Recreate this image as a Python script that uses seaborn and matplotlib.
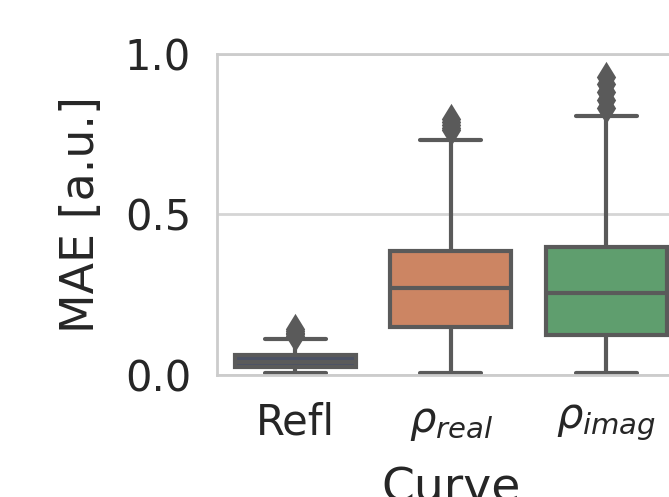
import numpy as np
import pandas as pd
import matplotlib
matplotlib.use("Agg")
import matplotlib.pyplot as plt
import seaborn as sns

# Box-plot summary per curve: whisker ends, quartiles, median and outliers
curves = ["Refl", r"$\rho_{real}$", r"$\rho_{imag}$"]
whisker_low = [0.007, 0.007, 0.007]
q1 = [0.024, 0.150, 0.123]
median = [0.040, 0.271, 0.255]
q3 = [0.0615, 0.385, 0.397]
whisker_high = [0.112, 0.730, 0.806]
outliers = [
    [0.120, 0.126, 0.132, 0.138, 0.143],
    [0.762, 0.770, 0.778, 0.786, 0.796],
    [0.832, 0.855, 0.880, 0.905, 0.928],
]
box_colors = ["#4b5265", "#cc8563", "#5f9e6e"]
line_gray = "#5a5a5a"

# Expand each summary into a sample whose quartiles/whiskers reproduce it
rows = []
for name, lo, a, m, b, hi, fl in zip(curves, whisker_low, q1, median, q3,
                                     whisker_high, outliers):
    sample = [lo] + [a] * 10 + [m] * 10 + [b] * 10 + [hi] + list(fl)
    rows += [(name, v) for v in sample]
df = pd.DataFrame(rows, columns=["Curve", "MAE"])

sns.set_theme(style="whitegrid")
plt.rcParams["font.family"] = ["DejaVu Sans"]
plt.rcParams["mathtext.fontset"] = "dejavusans"

fig = plt.figure(figsize=(669 / 200, 497 / 200), dpi=200)
ax = fig.add_axes([0.3251, 0.2455, 0.6973, 0.6467])

sns.boxplot(
    data=df, x="Curve", y="MAE", hue="Curve", order=curves, hue_order=curves,
    palette=box_colors, saturation=1, width=0.78, linewidth=1.5,
    linecolor=line_gray, legend=False, ax=ax,
    flierprops=dict(marker="d", markerfacecolor=line_gray,
                    markeredgecolor=line_gray, markersize=6.5),
)

ax.set_ylim(0, 1.0)
ax.set_yticks([0.0, 0.5, 1.0])
ax.set_yticklabels(["0.0", "0.5", "1.0"])
ax.tick_params(axis="y", length=0, pad=9.5, labelsize=15)
ax.tick_params(axis="x", length=0, pad=9.5, labelsize=15)
ax.set_xlabel("Curve", fontsize=17, labelpad=8.5)
ax.set_ylabel("MAE [a.u.]", fontsize=16.5, labelpad=7.5)
ax.xaxis.grid(False)
ax.yaxis.grid(True, color="#d5d5d5", linewidth=1.0)
for s in ax.spines.values():
    s.set_color("#cccccc")
    s.set_linewidth(1.0)

fig.savefig("out.png", dpi=200)
